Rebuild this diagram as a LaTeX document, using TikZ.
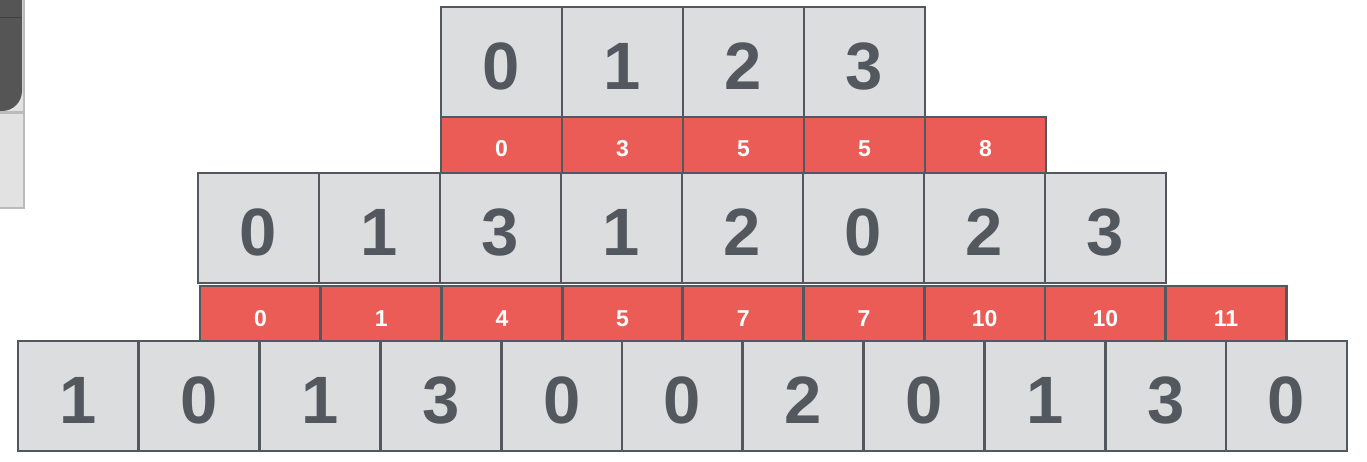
\documentclass[tikz,border=0pt]{standalone}
\usepackage{fontspec}
\setmainfont{Liberation Sans}
\usetikzlibrary{positioning}
\definecolor{cellgray}{HTML}{DCDDDF}
\definecolor{ink}{HTML}{53575E}
\definecolor{sumred}{HTML}{EB5C57}
\definecolor{panel}{HTML}{555555}
\definecolor{panelcell}{HTML}{E2E2E2}
\definecolor{panelline}{HTML}{BBBBBB}
\tikzset{
  every node/.style={inner sep=0pt,outer sep=0pt},
  cell/.style={draw=ink,line width=2.8pt,fill=cellgray,minimum width=121pt,minimum height=110pt,
    anchor=north west,text=ink,text height=55pt,text depth=0pt,font=\fontsize{67}{70}\selectfont\bfseries},
  sumcell/.style={draw=ink,line width=2.8pt,fill=sumred,minimum width=121pt,minimum height=56pt,
    anchor=north west,text=white,text height=24pt,text depth=0pt,font=\fontsize{23}{26}\selectfont\bfseries},
}
\begin{document}
\begin{tikzpicture}[x=1pt,y=-1pt]
\useasboundingbox (0,0) rectangle (1367,462);

% ---------- cut-off panel, top left ----------
\draw[panelline,line width=1.5pt,fill=panelcell] (-5,-5) rectangle (24,112);
\draw[panelline,line width=1.5pt,fill=panelcell] (-5,113) rectangle (24,208);
\fill[panel,rounded corners=20pt] (-30,-30) rectangle (22,111);
\draw[black!75,line width=1pt] (-5,18) -- (22,18);

% ---------- index row ----------
\foreach \v [count=\i from 0] in {0,1,2,3}
  \node[cell] (top\i) at (441+121*\i,7) {\v};

% ---------- first sums ----------
\foreach \v [count=\i from 0] in {0,3,5,5,8}
  \node[sumcell] (sumA\i) at (441+121*\i,117) {\v};

% ---------- middle row ----------
\foreach \v [count=\i from 0] in {0,1,3,1,2,0,2,3}
  \node[cell] (mid\i) at (198+121*\i,173) {\v};

% ---------- second sums ----------
\foreach \v [count=\i from 0] in {0,1,4,5,7,7,10,10,11}
  \node[sumcell] (sumB\i) at (200+120.7*\i,286) {\v};

% ---------- input row ----------
\foreach \v [count=\i from 0] in {1,0,1,3,0,0,2,0,1,3,0}
  \node[cell] (bot\i) at (18+120.8*\i,341) {\v};

\end{tikzpicture}
\end{document}
